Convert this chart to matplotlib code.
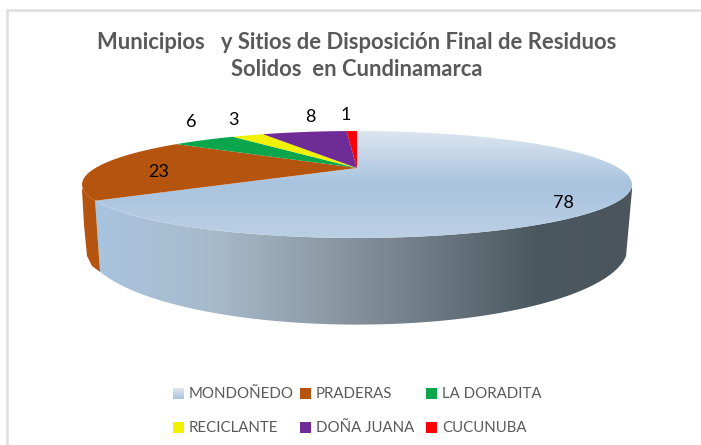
import numpy as np
import matplotlib
matplotlib.use("Agg")
import matplotlib.pyplot as plt
from matplotlib.colors import LinearSegmentedColormap
from matplotlib.patches import Polygon, Rectangle

categories = ["MONDOÑEDO", "PRADERAS", "LA DORADITA", "RECICLANTE", "DOÑA JUANA", "CUCUNUBA"]
values = [78, 23, 6, 3, 8, 1]
colors = ["#A9C4DF", "#B5540F", "#0BA64C", "#F2F200", "#6F2C96", "#FB0007"]
title = "Municipios   y Sitios de Disposición Final de Residuos\nSolidos  en Cundinamarca"

plt.rcParams["font.family"] = ["Lato", "DejaVu Sans"]
W, H = 701, 445
fig = plt.figure(figsize=(W / 100, H / 100), dpi=100, facecolor="white")
ax = fig.add_axes([0, 0, 1, 1])
ax.set_xlim(0, W)
ax.set_ylim(H, 0)
ax.axis("off")

# perspective projection of the unit disc
APEX = (357.0, 168.0)
A, D, C = 0.308, 48.4, 261.6


def project(theta):
    u, v = np.sin(theta), np.cos(theta)
    w = 1 + A * v
    return APEX[0] + C * u / w, APEX[1] - D * v / w


def lower(x, sign=1):
    return 247 + sign * 77.6 * np.sqrt(np.clip(1 - ((x - 357) / 271) ** 2, 0, 1))


edges = 2 * np.pi * np.concatenate([[0], np.cumsum(values)]) / np.sum(values)

# chart frame (left and top rules)
ax.plot([7, 7, 701], [445, 10, 10], color="#DEDEDE", lw=1.8, zorder=0,
        solid_joinstyle="miter")

# side wall of the two front slices
tb = edges[1]
tstart = np.pi / 2 + 0.26
arc = np.linspace(tstart, tb, 200)
xa, ya = project(arc)
xe, ye = project(np.array([tb]))
xl = np.linspace(xe[0] + 5, 626, 200)
yl = lower(xl)
wall_pts = np.column_stack([np.r_[xa, xl, 632], np.r_[ya, yl, 190]])
wall_cmap = LinearSegmentedColormap.from_list(
    "wall",
    [(0, "#A9C4DF"), (0.22, "#A7BACB"), (0.42, "#8E9CA8"), (0.62, "#6F7B84"),
     (0.82, "#4C5860"), (1, "#4A555D")])
im = ax.imshow(np.linspace(0, 1, 256)[None, :], extent=(95, 633, 335, 170), aspect="auto",
               cmap=wall_cmap, zorder=1, interpolation="bilinear")
im.set_clip_path(Polygon(wall_pts, closed=True, transform=ax.transData))

# praderas wall
arc2 = np.linspace(tb, edges[1] + 0.22, 40)
xo, yo = project(arc2)
xo2 = np.array([82, 84, 87, 92, xe[0] + 5])
yo2 = np.array([190, 225, 256, 266, 272])
ax.fill(np.r_[xo, xo2], np.r_[yo, yo2], color=colors[1], lw=0, zorder=1)

# top faces
top_cmap = LinearSegmentedColormap.from_list(
    "top", [(0, "#DEE6F0"), (0.5, "#A8C3DE"), (1, "#BCD0E5")])
t0 = np.linspace(edges[0], edges[1], 300)
xt, yt = project(t0)
top_pts = np.column_stack([np.r_[APEX[0], xt], np.r_[APEX[1], yt]])
im2 = ax.imshow(np.linspace(0, 1, 256)[:, None], extent=(70, 640, 239, 130), aspect="auto",
                cmap=top_cmap, zorder=2, interpolation="bilinear")
im2.set_clip_path(Polygon(top_pts, closed=True, transform=ax.transData))
for i in range(1, len(values)):
    t = np.linspace(edges[i], edges[i + 1], 80)
    x, y = project(t)
    ax.fill(np.r_[APEX[0], x], np.r_[APEX[1], y], color=colors[i], lw=0, zorder=3)

# data labels
label_xy = [(563, 203), (159, 172), (191, 122), (233, 120), (310, 117), (346, 115)]
for v, (x, y) in zip(values, label_xy):
    ax.text(x, y, str(v), fontsize=13, color="black", ha="center", va="center", zorder=5)

# title
ax.text(357, 56, title, fontsize=15.8, fontweight="bold", color="#595959",
        ha="center", va="center", linespacing=1.36)

# legend
col_x = [173, 300, 426]
row_y = [394, 428]
legend_cmap = LinearSegmentedColormap.from_list("lg", ["#DEE6F0", "#A8C3DE"])
for i, name in enumerate(categories):
    x, y = col_x[i % 3], row_y[i // 3]
    if i == 0:
        ax.imshow(np.linspace(0, 1, 32)[:, None], extent=(x, x + 11, y + 5, y - 6),
                  aspect="auto", cmap=legend_cmap, zorder=4)
    else:
        ax.add_patch(Rectangle((x, y - 6), 11, 11, color=colors[i], lw=0, zorder=4))
    ax.text(x + 16, y, name, fontsize=10.8, color="#595959", ha="left", va="center")
ax.set_xlim(0, W)
ax.set_ylim(H, 0)

fig.savefig("out.png", dpi=100, facecolor="white")
